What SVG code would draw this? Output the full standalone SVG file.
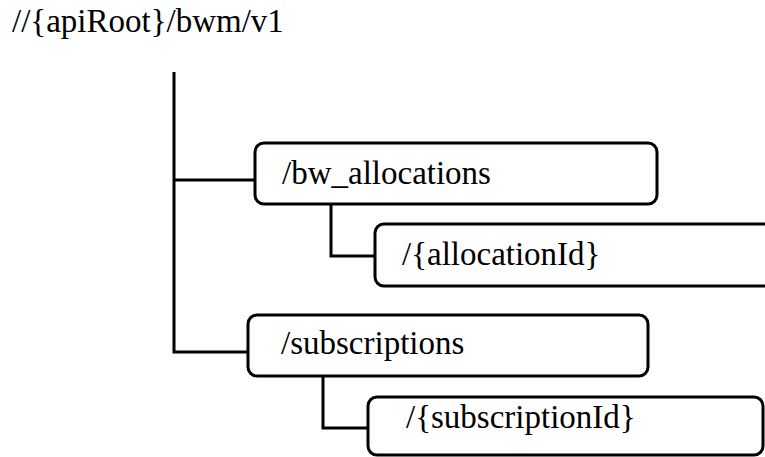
<svg xmlns="http://www.w3.org/2000/svg" width="765" height="457" viewBox="0 0 765 457">
  <style>
    .box { fill: #ffffff; stroke: #000000; stroke-width: 3; }
    .wire { fill: none; stroke: #000000; stroke-width: 3; }
    .label { font-size: 33px; fill: #000000; }
  </style>
  <rect width="765" height="457" fill="#ffffff"/>

  <!-- resource tree connectors -->
  <g id="connectors">
    <path class="wire" d="M174 72 V352 H248"/>
    <path class="wire" d="M174 180 H255"/>
    <path class="wire" d="M331 204 V256 H375"/>
    <path class="wire" d="M323 376 V428 H368"/>
  </g>

  <g font-family="Liberation Serif, Tinos, Noto Serif, FreeSerif, Times, serif">
    <g id="root">
      <text class="label" x="12" y="32">//{apiRoot}/bwm/v1</text>
    </g>

    <g id="bw_allocations">
      <rect class="box" x="255" y="143" width="402" height="61" rx="9"/>
      <text class="label" x="282" y="184">/bw_allocations</text>
    </g>

    <g id="allocationId">
      <rect class="box" x="375" y="224" width="420" height="62" rx="9"/>
      <text class="label" x="402" y="265">/{allocationId}</text>
    </g>

    <g id="subscriptions">
      <rect class="box" x="248" y="315" width="400" height="61" rx="9"/>
      <text class="label" x="281" y="354">/subscriptions</text>
    </g>

    <g id="subscriptionId">
      <rect class="box" x="368" y="397" width="395" height="58" rx="9"/>
      <text class="label" x="406" y="428">/{subscriptionId}</text>
    </g>
  </g>
</svg>
